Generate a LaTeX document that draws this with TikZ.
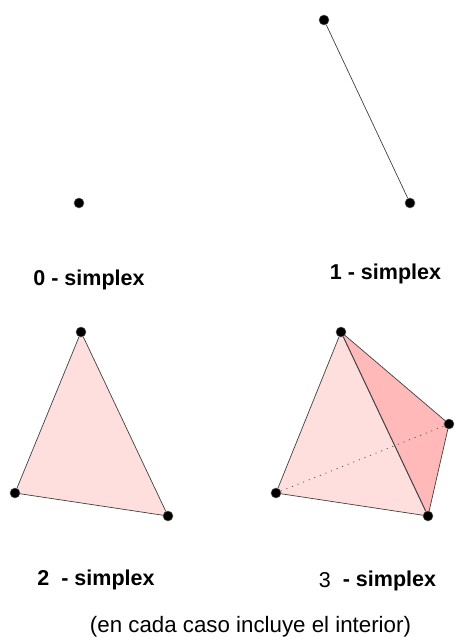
\documentclass[tikz,border=0pt]{standalone}
\usepackage{fontspec}
\setmainfont{Liberation Sans}
\tikzset{
 vtx/.style={circle,fill=black,draw=black!60,line width=0.5pt,inner sep=0pt,minimum size=10pt},
 lbl/.style={inner sep=0pt,font=\fontsize{21.5pt}{24pt}\selectfont\bfseries},
 note/.style={inner sep=0pt,font=\fontsize{22.3pt}{25pt}\selectfont},
 edge/.style={draw=black!75,line width=0.7pt},
}
\definecolor{facea}{RGB}{255,222,222}
\definecolor{faceb}{RGB}{255,185,185}
\begin{document}
\begin{tikzpicture}[x=1pt,y=-1pt]
\useasboundingbox (0,0) rectangle (455,637);
\node[vtx] (p0) at (79,203) {};
\node[vtx] (a1) at (324,20) {};
\node[vtx] (b1) at (410,203) {};
\draw[edge] (a1) -- (b1);
\coordinate (A) at (81,332);
\coordinate (B) at (15,493);
\coordinate (C) at (168,516);
\fill[facea] (A) -- (B) -- (C) -- cycle;
\node[vtx] (a2) at (A) {};
\node[vtx] (b2) at (B) {};
\node[vtx] (c2) at (C) {};
\draw[edge] (a2) -- (b2) -- (c2) -- (a2);
\coordinate (P) at (341,332);
\coordinate (Q) at (276,493);
\coordinate (R) at (428,516);
\coordinate (S) at (449,424);
\fill[facea] (P) -- (Q) -- (R) -- cycle;
\fill[faceb] (P) -- (R) -- (S) -- cycle;
\node[vtx] (p3) at (P) {};
\node[vtx] (q3) at (Q) {};
\node[vtx] (r3) at (R) {};
\node[vtx] (s3) at (S) {};
\draw[edge] (p3) -- (q3) -- (r3) -- (s3) -- (p3);
\draw[edge,line width=1pt] (p3) -- (r3);
\draw[draw=black!70,line width=0.8pt,dash pattern=on 1pt off 5pt] (q3) -- (s3);
\node[lbl] (l0) at (89,280) {0 - simplex};
\node[lbl] (l1) at (385.5,274) {1 - simplex};
\node[lbl] (l2) at (96,580) {2 \ - simplex};
\node[lbl] (l3) at (377.5,581) {\raisebox{-1pt}{\mdseries 3} \ - simplex};
\node[note] (l4) at (250.5,627) {(en cada caso incluye el interior)};
\end{tikzpicture}
\end{document}
